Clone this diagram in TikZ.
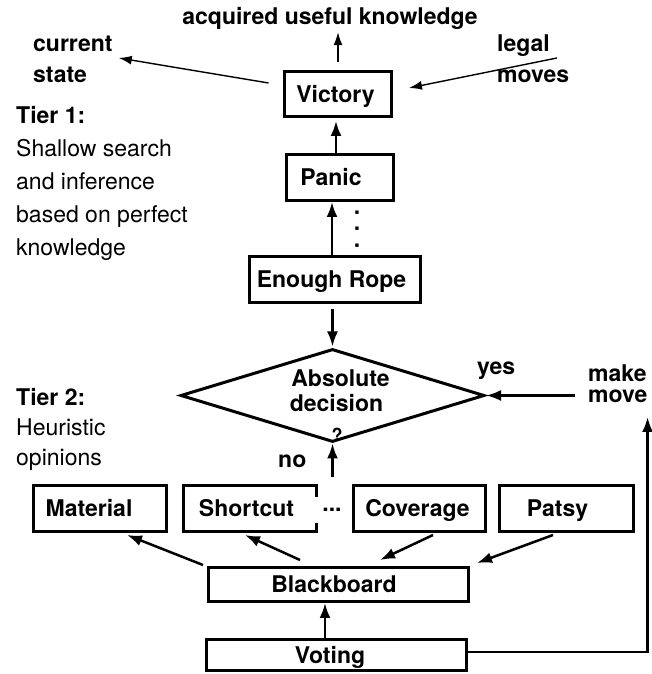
\documentclass[tikz,border=0pt]{standalone}
\usepackage{fontspec}
\setmainfont{TeX Gyre Heros}
\usetikzlibrary{arrows.meta,shapes.geometric}
\begin{document}
\begin{tikzpicture}[x=1pt,y=1pt,
  box/.style={draw, line width=3pt, inner sep=0pt, text height=16.5pt, text depth=0pt,
              font=\bfseries\fontsize{23}{27}\selectfont},
  txt/.style={inner sep=0pt, font=\fontsize{23}{27}\selectfont},
  btxt/.style={inner sep=0pt, font=\bfseries\fontsize{23}{27}\selectfont},
  arr/.style={-{Latex[length=15pt,width=11pt]}, line width=2.5pt},
  tarr/.style={-{Latex[length=13pt,width=9pt]}, line width=1.4pt},
]
\useasboundingbox (0,0) rectangle (651,674);

% boxes
\node[box, minimum width=107, minimum height=45] (vic) at (338,580) {Victory\hspace*{5pt}};
\node[box, minimum width=107, minimum height=46] (panic) at (340,496.5) {Panic\hspace*{18pt}};
\node[box, minimum width=171, minimum height=46] (rope) at (335,394.5) {Enough Rope\hspace*{7pt}};
\node[draw, shape=diamond, line width=3pt, minimum width=304, minimum height=93, inner sep=0pt] (dec) at (332.5,278.5) {};
\node[box, minimum width=133, minimum height=46] (mat) at (100,165.5) {Material\hspace*{22pt}};
\node[box, minimum width=133, minimum height=46] (sc) at (250,165.5) {Shortcut\hspace*{7pt}};
\node[box, minimum width=132, minimum height=46] (cov) at (419.5,165.5) {Coverage\hspace*{4pt}};
\node[box, minimum width=134, minimum height=46] (pat) at (566.5,165.5) {Patsy\hspace*{18pt}};
\node[box, minimum width=260, minimum height=34] (bb) at (338.5,89.5) {Blackboard\hspace*{9pt}};
\node[box, minimum width=260, minimum height=31] (vote) at (336.5,19) {Voting\hspace*{13pt}};

% ellipses
\node[btxt, fill=white, inner xsep=7pt, minimum height=26] (hd) at (332,164) {...};
\node[btxt, rotate=-90] (vd) at (357,445) {.\hspace{10pt}.\hspace{10pt}.};

% texts
\node[btxt, anchor=base] (acq) at (330,649) {acquired useful knowledge};
\node[btxt, anchor=base west] (cur1) at (33,622) {current};
\node[btxt, anchor=base west] (cur2) at (33,591) {state};
\node[btxt, anchor=base west] (leg1) at (497,622) {legal};
\node[btxt, anchor=base west] (leg2) at (497,591) {moves};
\node[btxt, anchor=base west] (t1) at (16,550) {Tier 1:};
\node[txt, anchor=base west] (t1a) at (16,517) {Shallow search};
\node[txt, anchor=base west] (t1b) at (16,484) {and inference};
\node[txt, anchor=base west] (t1c) at (16,451) {based on perfect};
\node[txt, anchor=base west] (t1d) at (16,418) {knowledge};
\node[btxt, anchor=base west] (t2) at (16,268) {Tier 2:};
\node[txt, anchor=base west] (t2a) at (16,238) {Heuristic};
\node[txt, anchor=base west] (t2b) at (16,208) {opinions};
\node[btxt, anchor=base] (abs1) at (340.5,287) {Absolute};
\node[btxt, anchor=base] (abs2) at (336.5,262) {decision};
\node[inner sep=0pt, anchor=base, font=\bfseries\fontsize{18}{20}\selectfont] (q) at (337,232) {?};
\node[btxt, anchor=base west] (no) at (278,206) {no};
\node[btxt, anchor=base west] (yes) at (477,299) {yes};
\node[btxt, anchor=base west] (mk1) at (588,292) {make};
\node[btxt, anchor=base west] (mk2) at (588,271) {move};

% top arrows
\draw[tarr, shorten >=2pt] ([yshift=8]vic.north) -- (vic.north |- acq.south);
\draw[tarr] ([shift={(-14.5,11)}]vic.west) -- ([shift={(6,-6)}]cur1.base east);
\draw[tarr] ([shift={(7,-6)}]leg1.base east) -- ([shift={(16,6)}]vic.east);

% column arrows
\draw[arr, shorten >=3pt] ([xshift=-4]panic.north) -- ([xshift=-4]panic.north |- vic.south);
\draw[arr] ([xshift=-3]rope.north) -- ([xshift=-3]rope.north |- panic.south);
\draw[arr, shorten <=5pt, shorten >=1pt] (rope.south -| dec.north) -- (dec.north);
\draw[arr] ([xshift=-13]mk1.west |- dec.east) -- (dec.east);
\draw[arr] ([yshift=-34]dec.south) -- (dec.south);
\draw[arr] ([yshift=3]vote.east) -| ([shift={(0,-14)}]mk2.base east);

% bottom arrows
\draw[arr] ([shift={(-4,1)}]bb.north west) -- ([shift={(27,-2)}]mat.south);
\draw[arr] ([shift={(-38.5,6)}]bb.north) -- ([shift={(-5,-2)}]sc.south);
\draw[arr] ([shift={(13.5,-2)}]cov.south) -- ([shift={(41.5,6)}]bb.north);
\draw[arr] ([shift={(-13.5,-2)}]pat.south) -- ([shift={(7,3)}]bb.north east);
\draw[arr] ([xshift=-11.5]vote.north) -- ([xshift=-11.5]vote.north |- bb.south);
\end{tikzpicture}
\end{document}
